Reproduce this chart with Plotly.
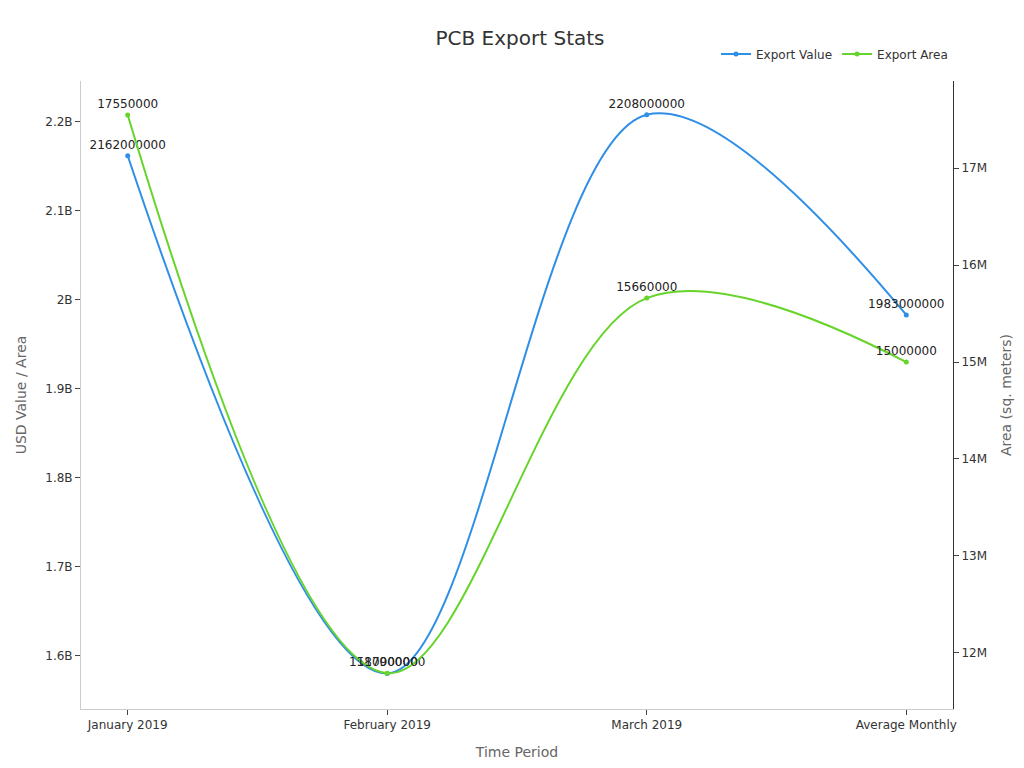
import plotly.graph_objects as go

# ── Data
periods = ["January 2019", "February 2019", "March 2019", "Average Monthly"]
export_value = [2162000000, 1580000000, 2208000000, 1983000000]
export_area = [17550000, 11790000, 15660000, 15000000]

fig = go.Figure()

fig.add_trace(go.Scatter(
    x=periods, y=export_value, name="Export Value",
    mode="lines+markers+text", line=dict(color="#2f8fe6", width=2, shape="spline"),
    marker=dict(size=5), text=[str(v) for v in export_value],
    textposition="top center", textfont=dict(size=12, color="#222")
))

fig.add_trace(go.Scatter(
    x=periods, y=export_area, name="Export Area", yaxis="y2",
    mode="lines+markers+text", line=dict(color="#66d42a", width=2, shape="spline"),
    marker=dict(size=5), text=[str(v) for v in export_area],
    textposition="top center", textfont=dict(size=12, color="#222")
))

axis_style = dict(showgrid=False, showline=True, linecolor="#333", ticks="outside",
                  ticklen=5, tickfont=dict(size=12, color="#333"), zeroline=False)

fig.update_layout(
    title=dict(text="PCB Export Stats", x=0.5, y=0.97, font=dict(size=20, color="#333")),
    width=1024, height=768,
    paper_bgcolor="white", plot_bgcolor="white",
    font=dict(family="DejaVu Sans", color="#333"),
    margin=dict(l=64, r=79, t=73, b=67),
    legend=dict(orientation="h", x=1, xanchor="right", y=1.02, yanchor="bottom",
                font=dict(size=12)),
    xaxis=dict(axis_style, range=[-0.18, 3.18], linecolor="#ccc",
               title=dict(text="Time Period", font=dict(size=14, color="#666"))),
    yaxis=dict(axis_style, range=[1.540e9, 2.246e9], linecolor="#ccc",
               title=dict(text="USD Value / Area", font=dict(size=14, color="#666"))),
    yaxis2=dict(axis_style, range=[11.42e6, 17.9e6], overlaying="y", side="right",
                title=dict(text="Area (sq. meters)", font=dict(size=14, color="#666"))),
)

fig.write_html("out.html")
